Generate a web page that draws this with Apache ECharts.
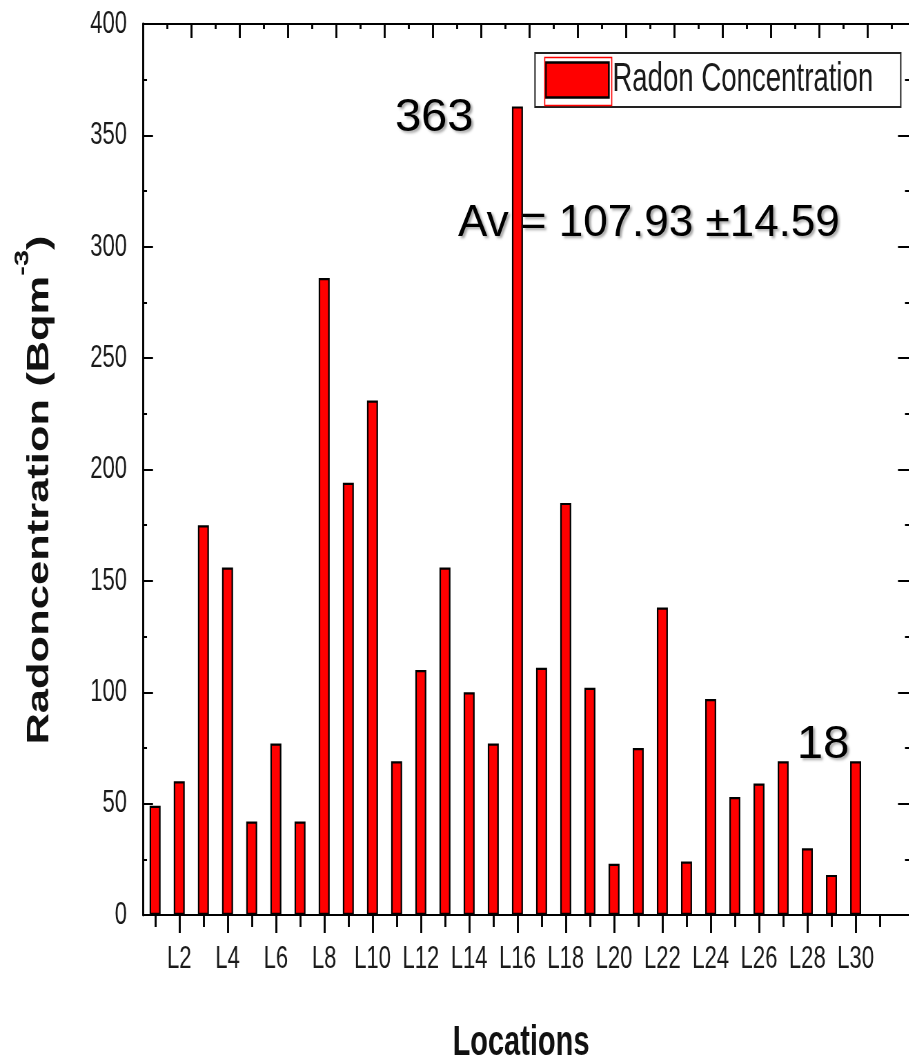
<!DOCTYPE html>
<html>
<head>
<meta charset="utf-8">
<script src="https://cdn.jsdelivr.net/npm/echarts@6/dist/echarts.min.js"></script>
<style>
html,body{margin:0;padding:0;background:#fff;overflow:hidden;}
#wrap{width:909px;height:1064px;overflow:hidden;position:relative;background:#fff;}
#chart{width:1340px;height:1064px;transform:scaleX(0.69);transform-origin:0 0;}
</style>
</head>
<body>
<div id="wrap"><div id="chart"></div></div>
<script>
// ---- data ----
const categories = ['L1','L2','L3','L4','L5','L6','L7','L8','L9','L10',
  'L11','L12','L13','L14','L15','L16','L17','L18','L19','L20',
  'L21','L22','L23','L24','L25','L26','L27','L28','L29','L30','L31','L32'];
const radonConcentration = [49, 60, 175, 156, 42, 77, 42, 286, 194, 231,
  69, 110, 156, 100, 77, 363, 111, 185, 102, 23,
  75, 138, 24, 97, 53, 59, 69, 30, 18, 69];
const seriesName = 'Radon Concentration';
const yMin = 0, yMax = 400, yStep = 50;
const xTitle = 'Locations';
const yTitleMain = 'Radoncentration (Bqm';
const yTitleSup = '-3';
const yTitleEnd = ')';
const maxLabel = '363';
const minLabel = '18';
const avgLabel = 'Av = 107.93 \u00B114.59';

// ---- styling (the original picture is horizontally squashed; we draw wide and squash) ----
const SQ = 0.69;                  // horizontal squash applied by CSS
const X = (px) => px / SQ;        // screen px -> chart px (horizontal)
const SANS = "'Liberation Sans',Arial,Helvetica,sans-serif";
const INK = '#1a1a1a';
const hLine = {color:'#000', width:2};        // horizontal strokes
const vLine = {color:'#000', width:2 / SQ};   // vertical strokes
const lastIdx = radonConcentration.length;    // index of L31

const chart = echarts.init(document.getElementById('chart'));
const shadow = {textShadowColor:'rgba(0,0,0,0.35)', textShadowBlur:3, textShadowOffsetX:3, textShadowOffsetY:2};

chart.setOption({
  backgroundColor:'#fff',
  animation:false,
  grid:{left:X(143), top:24, width:X(773), height:891, containLabel:false, outerBoundsMode:'none'},
  legend:{
    data:[seriesName], left:X(535), top:53, orient:'horizontal',
    padding:[7,40,7,X(10)], itemWidth:X(63), itemHeight:35, icon:'rect',
    selectedMode:false,
    backgroundColor:'#fff', borderColor:'#222', borderWidth:2, borderRadius:0,
    itemStyle:{color:'#ff0000', borderColor:'#000', borderWidth:2.5},
    textStyle:{fontFamily:SANS, fontSize:40, lineHeight:39, color:INK}
  },
  xAxis:[
    {type:'category', data:categories, position:'bottom', boundaryGap:true,
     axisLine:{show:true, onZero:false, lineStyle:hLine},
     axisTick:{show:true, alignWithLabel:true, length:18, lineStyle:vLine,
       interval:(i)=> i%2===1 && i<lastIdx},
     axisLabel:{show:true, margin:28, fontFamily:SANS, fontSize:32, color:INK,
       interval:(i)=> i%2===1 && i<lastIdx},
     splitLine:{show:false}},
    {type:'category', data:categories, position:'bottom', boundaryGap:true,
     axisLine:{show:false, onZero:false},
     axisTick:{show:true, alignWithLabel:true, length:12, lineStyle:vLine,
       interval:(i)=> i%2===0 && i<=lastIdx},
     axisLabel:{show:false}, splitLine:{show:false}},
    {type:'category', data:categories, position:'top', boundaryGap:true,
     axisLine:{show:true, onZero:false, lineStyle:hLine},
     axisTick:{show:true, inside:true, length:14, lineStyle:vLine,
       interval:(i)=> i>=2 && i%2===0},
     axisLabel:{show:false}, splitLine:{show:false}},
    {type:'category', data:categories, position:'top', boundaryGap:true,
     axisLine:{show:false, onZero:false},
     axisTick:{show:true, inside:true, length:5, lineStyle:vLine,
       interval:(i)=> i%2===1},
     axisLabel:{show:false}, splitLine:{show:false}}
  ],
  yAxis:[
    {type:'value', position:'left', min:yMin, max:yMax, interval:yStep,
     axisLine:{show:true, onZero:false, lineStyle:vLine},
     axisTick:{show:true, inside:true, length:X(10), lineStyle:hLine},
     minorTick:{show:true, splitNumber:2, length:X(4), lineStyle:hLine},
     axisLabel:{margin:X(16), fontFamily:SANS, fontSize:32, color:INK},
     splitLine:{show:false}},
    {type:'value', position:'right', min:yMin, max:yMax, interval:yStep,
     axisLine:{show:true, onZero:false, lineStyle:vLine},
     axisTick:{show:true, inside:true, length:X(18), lineStyle:hLine},
     minorTick:{show:true, splitNumber:2, length:X(11), lineStyle:hLine},
     axisLabel:{show:false}, splitLine:{show:false}}
  ],
  series:[{
    name:seriesName, type:'bar', xAxisIndex:0, yAxisIndex:0,
    data:radonConcentration, barWidth:X(11),
    itemStyle:{color:'#ff0000', borderColor:'#000', borderWidth:2.2},
    z:3
  }],
  graphic:[
    {type:'rect', left:X(543), top:55, z:100,
     shape:{x:0, y:0, width:X(67), height:48},
     style:{fill:'none', stroke:'#ff0000', lineWidth:1.6}},
    {type:'text', x:X(395), y:118, scaleX:1/SQ, z:100,
     style:Object.assign({text:maxLabel, fontFamily:SANS, fontSize:47, fill:'#000',
       align:'left', verticalAlign:'middle'}, shadow)},
    {type:'text', x:X(458), y:224, scaleX:1/SQ, z:100,
     style:Object.assign({text:avgLabel, fontFamily:SANS, fontSize:44, fill:'#000',
       align:'left', verticalAlign:'middle'}, shadow)},
    {type:'text', x:X(797), y:745, scaleX:1/SQ, z:100,
     style:Object.assign({text:minLabel, fontFamily:SANS, fontSize:47, fill:'#000',
       align:'left', verticalAlign:'middle'}, shadow)},
    {type:'text', x:X(521), y:1043, z:100,
     style:{text:xTitle, fontFamily:SANS, fontWeight:'bold', fontSize:42, fill:'#111',
       align:'center', verticalAlign:'middle'}},
    {type:'text', x:X(40), y:490, rotation:Math.PI/2, z:100,
     style:{text:'{a|'+yTitleMain+'}{s|'+yTitleSup+'}{a|'+yTitleEnd+'}',
       align:'center', verticalAlign:'middle',
       rich:{
         a:{fontFamily:SANS, fontWeight:'bold', fontSize:43.5, fill:'#111', color:'#111'},
         s:{fontFamily:SANS, fontWeight:'bold', fontSize:29, fill:'#111', color:'#111', padding:[0,0,50,0]}
       }}}
  ]
});
</script>
</body>
</html>
